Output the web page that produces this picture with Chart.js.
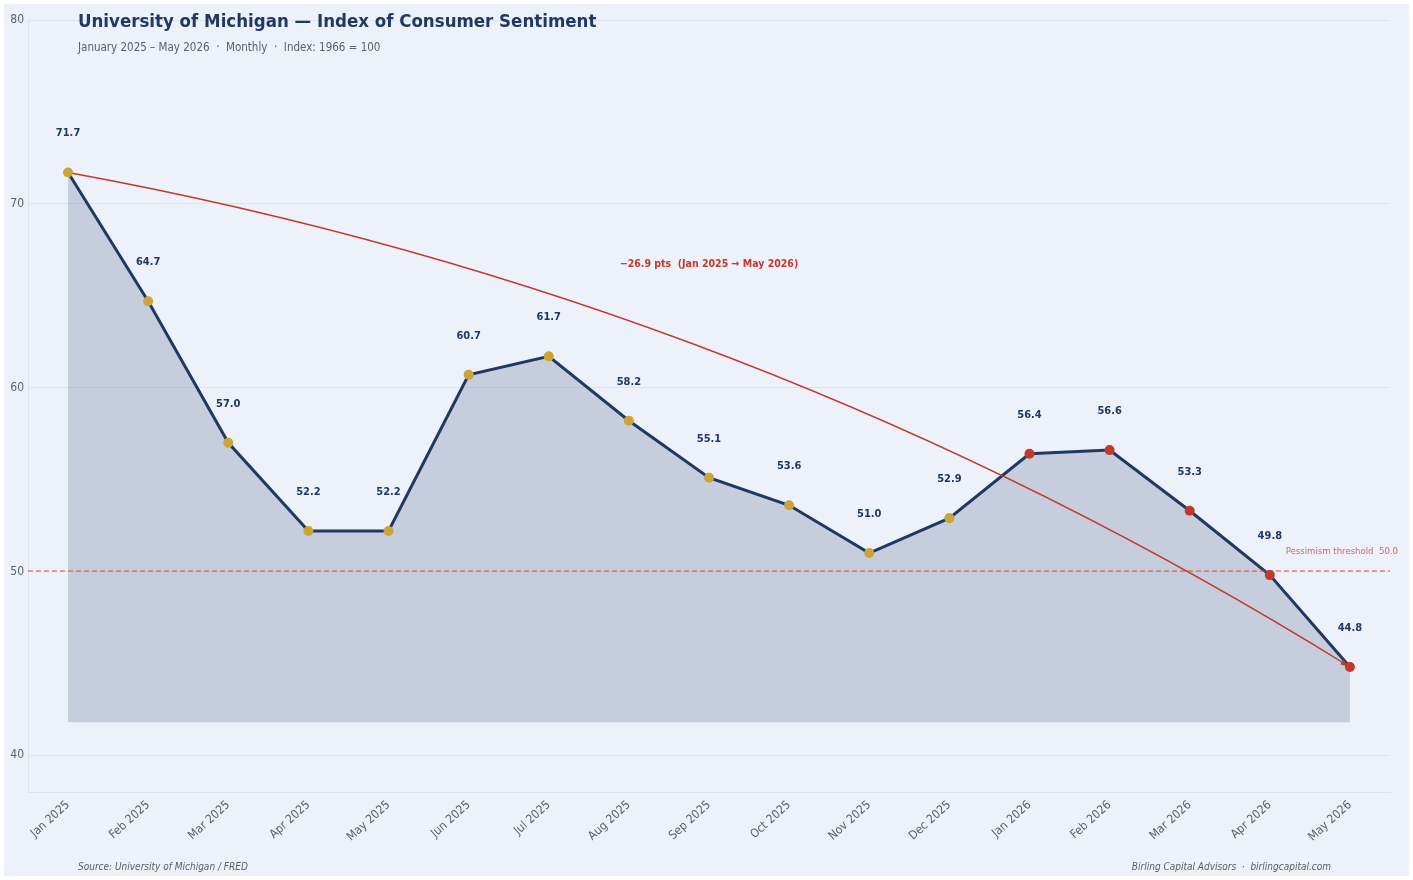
<!DOCTYPE html>
<html>
<head>
<meta charset="utf-8">
<script src="https://cdn.jsdelivr.net/npm/chart.js@4.4.1/dist/chart.umd.min.js"></script>
<style>
  html, body { margin: 0; padding: 0; background: #ffffff; }
  #wrap { width: 1413px; height: 880px; position: relative; }
</style>
</head>
<body>
<div id="wrap"><canvas id="chart" width="1413" height="880"></canvas></div>
<script>
// Consumer sentiment, monthly
const months = ['Jan 2025', 'Feb 2025', 'Mar 2025', 'Apr 2025', 'May 2025', 'Jun 2025', 'Jul 2025',
                'Aug 2025', 'Sep 2025', 'Oct 2025', 'Nov 2025', 'Dec 2025', 'Jan 2026', 'Feb 2026',
                'Mar 2026', 'Apr 2026', 'May 2026'];
const sentiment = [71.7, 64.7, 57.0, 52.2, 52.2, 60.7, 61.7, 58.2, 55.1, 53.6, 51.0, 52.9, 56.4, 56.6, 53.3, 49.8, 44.8];
const yTicks = [40, 50, 60, 70, 80];
const threshold = 50.0;
const fillBase = 41.8;
const changeLabel = '\u221226.9 pts  (Jan 2025 \u2192 May 2026)';
const changeLabelValue = 66.7;

const NAVY = '#1f3864';
const GOLD = '#c9a53a';
const RED = '#c0392b';
const BG = '#edf1f9';
const FONT = '"DejaVu Sans Condensed", "DejaVu Sans", sans-serif';

const pointColors = months.map(m => m.endsWith('2026') ? RED : GOLD);

// Background, annotations, labels
const decor = {
    id: 'decor',
    beforeDraw(chart) {
        const ctx = chart.ctx;
        ctx.save();
        ctx.fillStyle = '#ffffff';
        ctx.fillRect(0, 0, chart.width, chart.height);
        ctx.fillStyle = BG;
        ctx.fillRect(4, 4, chart.width - 8, chart.height - 8);
        ctx.restore();
    },
    afterDatasetsDraw(chart) {
        const ctx = chart.ctx, a = chart.chartArea, x = chart.scales.x, y = chart.scales.y;
        const meta = chart.getDatasetMeta(0);

        // threshold line
        const ty = Math.round(y.getPixelForValue(threshold));
        ctx.save();
        ctx.strokeStyle = '#d0574a';
        ctx.lineWidth = 1.2;
        ctx.setLineDash([5, 3]);
        ctx.beginPath();
        ctx.moveTo(a.left, ty);
        ctx.lineTo(a.right, ty);
        ctx.stroke();
        ctx.setLineDash([]);
        ctx.fillStyle = 'rgba(192,57,43,0.75)';
        ctx.font = '9.5px ' + FONT;
        ctx.textAlign = 'right';
        ctx.textBaseline = 'middle';
        ctx.fillText('Pessimism threshold  ' + threshold.toFixed(1), a.right + 8, ty - 19);
        ctx.restore();

        // change arrow
        const last = sentiment.length - 1;
        const x1 = x.getPixelForValue(0), y1 = y.getPixelForValue(sentiment[0]);
        const x2 = x.getPixelForValue(last), y2 = y.getPixelForValue(sentiment[last]);
        const rad = 0.095;
        const cx = (x1 + x2) / 2 + rad * (y2 - y1);
        const cy = (y1 + y2) / 2 - rad * (x2 - x1);
        ctx.save();
        ctx.strokeStyle = RED;
        ctx.fillStyle = RED;
        ctx.lineWidth = 1.4;
        ctx.beginPath();
        ctx.moveTo(x1, y1);
        ctx.quadraticCurveTo(cx, cy, x2, y2);
        ctx.stroke();
        const ang = Math.atan2(y2 - cy, x2 - cx);
        ctx.beginPath();
        ctx.moveTo(x2, y2);
        ctx.lineTo(x2 - 10 * Math.cos(ang - 0.3), y2 - 10 * Math.sin(ang - 0.3));
        ctx.lineTo(x2 - 10 * Math.cos(ang + 0.3), y2 - 10 * Math.sin(ang + 0.3));
        ctx.closePath();
        ctx.fill();
        ctx.font = 'bold 10.5px ' + FONT;
        ctx.textAlign = 'center';
        ctx.textBaseline = 'middle';
        ctx.fillText(changeLabel, (x1 + x2) / 2, y.getPixelForValue(changeLabelValue));
        ctx.restore();

        // points on top
        ctx.save();
        meta.data.forEach((p, i) => {
            ctx.fillStyle = pointColors[i];
            ctx.beginPath();
            ctx.arc(p.x, p.y, 5, 0, Math.PI * 2);
            ctx.fill();
        });
        // value labels
        ctx.fillStyle = NAVY;
        ctx.font = 'bold 11px ' + FONT;
        ctx.textAlign = 'center';
        ctx.textBaseline = 'middle';
        meta.data.forEach((p, i) => {
            ctx.fillText(sentiment[i].toFixed(1), p.x, p.y - 39);
        });
        ctx.restore();
    },
    afterDraw(chart) {
        const ctx = chart.ctx;
        ctx.save();
        ctx.textBaseline = 'middle';
        ctx.textAlign = 'left';
        ctx.fillStyle = NAVY;
        ctx.font = 'bold 18.5px ' + FONT;
        ctx.fillText('University of Michigan \u2014 Index of Consumer Sentiment', 78, 22);
        ctx.fillStyle = '#5a5f6a';
        ctx.font = '11.5px ' + FONT;
        ctx.fillText('January 2025 \u2013 May 2026  \u00b7  Monthly  \u00b7  Index: 1966 = 100', 78, 48);
        ctx.font = 'italic 10px ' + FONT;
        ctx.fillText('Source: University of Michigan / FRED', 78, 867);
        ctx.textAlign = 'right';
        ctx.fillText('Birling Capital Advisors  \u00b7  birlingcapital.com', 1331, 867);
        ctx.restore();
    }
};

new Chart(document.getElementById('chart').getContext('2d'), {
    type: 'line',
    data: {
        labels: months,
        datasets: [{
            data: sentiment,
            borderColor: NAVY,
            borderWidth: 3,
            backgroundColor: 'rgba(31,56,100,0.19)',
            fill: { value: fillBase },
            tension: 0,
            pointRadius: 0,
            pointHoverRadius: 0
        }]
    },
    options: {
        responsive: false,
        animation: false,
        events: [],
        layout: { padding: { top: 20, right: 23, bottom: 30, left: 0 } },
        plugins: { legend: { display: false }, tooltip: { enabled: false } },
        scales: {
            x: {
                offset: true,
                grid: { display: false, drawTicks: false },
                border: { display: true, color: '#dfe4ec' },
                ticks: {
                    color: '#5a5f6a',
                    font: { family: FONT, size: 12 },
                    maxRotation: 42,
                    minRotation: 42,
                    padding: 6,
                    autoSkip: false
                },
                afterFit(scale) { scale.height = 58; }
            },
            y: {
                min: 38,
                max: 80,
                grid: { color: '#dfe4ec', lineWidth: 1, drawTicks: false },
                border: { display: true, color: '#dfe4ec' },
                ticks: {
                    color: '#5a5f6a',
                    font: { family: FONT, size: 12 },
                    padding: 4
                },
                afterBuildTicks(scale) { scale.ticks = yTicks.map(v => ({ value: v })); },
                afterFit(scale) { scale.width = 28; }
            }
        }
    },
    plugins: [decor]
});
</script>
</body>
</html>
